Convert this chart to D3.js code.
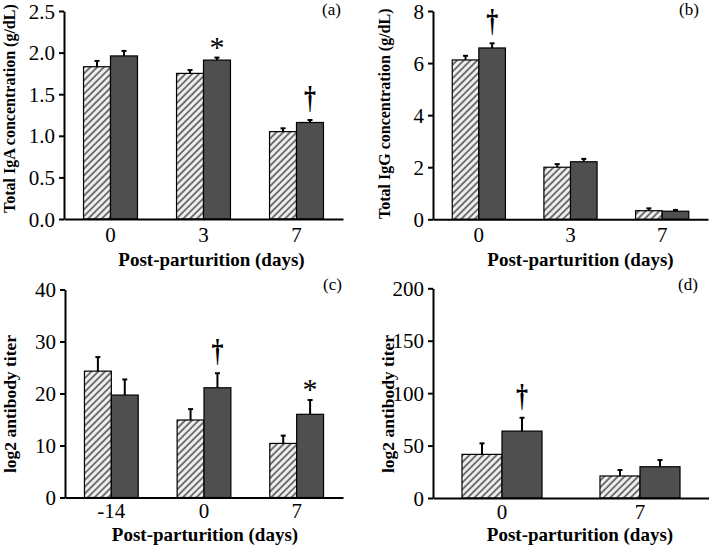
<!DOCTYPE html>
<html><head><meta charset="utf-8">
<script src="https://cdn.jsdelivr.net/npm/d3@7"></script>
<style>body{margin:0;background:#fff}svg{display:block}</style>
</head><body>
<svg id="c" width="709" height="547"></svg>
<script>
// ---- data ----
const daysAB = ["0", "3", "7"];
const igaControl = [1.83, 1.75, 1.05];
const igaControlErr = [0.07, 0.04, 0.04];
const igaTreated = [1.96, 1.91, 1.16];
const igaTreatedErr = [0.06, 0.03, 0.03];
const igaTicks = [0, 0.5, 1.0, 1.5, 2.0, 2.5];
const igaMarks = ["", "*", "†"];

const iggControl = [6.12, 2.00, 0.33];
const iggControlErr = [0.16, 0.12, 0.09];
const iggTreated = [6.58, 2.21, 0.31];
const iggTreatedErr = [0.18, 0.11, 0.05];
const iggTicks = [0, 2, 4, 6, 8];
const iggMarks = ["†", "", ""];

const daysC = ["-14", "0", "7"];
const titerCControl = [24.3, 14.9, 10.4];
const titerCControlErr = [2.7, 2.1, 1.5];
const titerCTreated = [19.7, 21.1, 16.0];
const titerCTreatedErr = [3.0, 2.8, 2.75];
const titerCTicks = [0, 10, 20, 30, 40];
const titerCMarks = ["", "†", "*"];

const daysD = ["0", "7"];
const titerDControl = [41.6, 21.0];
const titerDControlErr = [10.5, 5.7];
const titerDTreated = [63.8, 29.8];
const titerDTreatedErr = [12.7, 6.4];
const titerDTicks = [0, 50, 100, 150, 200];
const titerDMarks = ["†", ""];

const groups = ["control", "treated"];
const xTitle = "Post-parturition (days)";

// ---- layout ----
const svg = d3.select("#c");
const FONT = "'Liberation Serif','Times New Roman',Times,serif";
const defs = svg.append("defs");
const pat = defs.append("pattern").attr("id", "hatch").attr("patternUnits", "userSpaceOnUse")
  .attr("width", 4.8).attr("height", 4.8).attr("patternTransform", "rotate(45)");
pat.append("rect").attr("width", 4.8).attr("height", 4.8).attr("fill", "#efefef");
pat.append("line").attr("x1", 1).attr("y1", 0).attr("x2", 1).attr("y2", 4.8)
  .attr("stroke", "#5e5e5e").attr("stroke-width", 1.7);

const panels = [
  {cats: daysAB, ctrl: igaControl, ctrlErr: igaControlErr, trt: igaTreated, trtErr: igaTreatedErr,
   ticks: igaTicks, fmt: d3.format(".1f"), max: 2.5, marks: igaMarks, label: "(a)",
   ytitle: "Total IgA concentration (g/dL)",
   L: 64, R: 343, B: 219, T: 11, ytx: 14.5, yty: 213, yfs: 16, xtx: 211.5, xty: 266, lx: 322, ly: 15, tp: 8},
  {cats: daysAB, ctrl: iggControl, ctrlErr: iggControlErr, trt: iggTreated, trtErr: iggTreatedErr,
   ticks: iggTicks, fmt: d3.format("d"), max: 8, marks: iggMarks, label: "(b)",
   ytitle: "Total IgG concentration (g/dL)",
   L: 433, R: 708, B: 219.3, T: 11, ytx: 389.5, yty: 219, yfs: 16, xtx: 580.5, xty: 266, lx: 679, ly: 15, tp: 8},
  {cats: daysC, ctrl: titerCControl, ctrlErr: titerCControlErr, trt: titerCTreated, trtErr: titerCTreatedErr,
   ticks: titerCTicks, fmt: d3.format("d"), max: 40, marks: titerCMarks, label: "(c)",
   ytitle: "log2 antibody titer",
   L: 65, R: 343, B: 497.5, T: 289.5, ytx: 15.5, yty: 473, yfs: 17.5, xtx: 205, xty: 541, lx: 323, ly: 290, tp: 6},
  {cats: daysD, ctrl: titerDControl, ctrlErr: titerDControlErr, trt: titerDTreated, trtErr: titerDTreatedErr,
   ticks: titerDTicks, fmt: d3.format("d"), max: 200, marks: titerDMarks, label: "(d)",
   ytitle: "log2 antibody titer",
   L: 433, R: 709, B: 498, T: 288.3, ytx: 393.5, yty: 473, yfs: 17.5, xtx: 580, xty: 541, lx: 678, ly: 290, tp: 6}
];

panels.forEach(p => {
  const g = svg.append("g");
  const x0 = d3.scaleBand().domain(p.cats).range([p.L, p.R]).paddingInner(0.42).paddingOuter(0.21);
  const x1 = d3.scaleBand().domain(groups).range([0, x0.bandwidth()]);
  const y = d3.scaleLinear().domain([0, p.max]).range([p.B, p.T]);

  const rows = [];
  p.cats.forEach((c, i) => {
    rows.push({cat: c, grp: "control", v: p.ctrl[i], e: p.ctrlErr[i], mark: ""});
    rows.push({cat: c, grp: "treated", v: p.trt[i], e: p.trtErr[i], mark: p.marks[i]});
  });

  // error bars (upper only)
  const eb = g.selectAll("g.eb").data(rows).join("g");
  eb.append("line")
    .attr("x1", d => x0(d.cat) + x1(d.grp) + x1.bandwidth() / 2)
    .attr("x2", d => x0(d.cat) + x1(d.grp) + x1.bandwidth() / 2)
    .attr("y1", d => y(d.v)).attr("y2", d => y(d.v + d.e))
    .attr("stroke", "#000").attr("stroke-width", 2);
  eb.append("line")
    .attr("x1", d => x0(d.cat) + x1(d.grp) + x1.bandwidth() / 2 - 2.5)
    .attr("x2", d => x0(d.cat) + x1(d.grp) + x1.bandwidth() / 2 + 2.5)
    .attr("y1", d => y(d.v + d.e)).attr("y2", d => y(d.v + d.e))
    .attr("stroke", "#000").attr("stroke-width", 2);

  // bars
  g.selectAll("rect.bar").data(rows).join("rect")
    .attr("x", d => x0(d.cat) + x1(d.grp))
    .attr("width", x1.bandwidth())
    .attr("y", d => y(d.v))
    .attr("height", d => y(0) - y(d.v))
    .attr("fill", d => d.grp === "control" ? "url(#hatch)" : "#4f4f4f")
    .attr("stroke", "#000").attr("stroke-width", 1.2);

  // significance marks
  rows.filter(d => d.mark).forEach(d => {
    const cx = x0(d.cat) + x1(d.grp) + x1.bandwidth() / 2;
    const top = y(d.v + d.e);
    if (d.mark === "*") {
      g.append("text").attr("x", cx).attr("y", top - 1).attr("text-anchor", "middle")
        .attr("fill", "#000").attr("font-family", FONT).attr("font-size", 30).text("*");
    } else {
      g.append("g").attr("transform", `translate(${cx},${top - 12}) scale(1,1.3)`)
        .append("text").attr("text-anchor", "middle").attr("fill", "#000").attr("font-weight", "bold")
        .attr("font-family", "'Liberation Serif','DejaVu Serif',serif").attr("font-size", 24).text("†");
    }
  });

  // axes
  const ya = g.append("g").attr("transform", `translate(${p.L},0)`)
    .call(d3.axisLeft(y).tickValues(p.ticks).tickFormat(p.fmt).tickSize(5).tickSizeOuter(0).tickPadding(4));
  ya.select(".domain").attr("stroke-width", 2);
  ya.selectAll(".tick line").attr("stroke-width", 2);
  ya.selectAll(".tick text").attr("font-family", FONT).attr("font-size", 21).attr("fill", "#000").attr("dy", "0.34em");

  const xa = g.append("g").attr("transform", `translate(0,${p.B})`)
    .call(d3.axisBottom(x0).tickSize(0).tickSizeOuter(0).tickPadding(p.tp));
  xa.select(".domain").attr("stroke-width", 2);
  xa.selectAll(".tick text").attr("font-family", FONT).attr("font-size", 21).attr("fill", "#000");

  // titles
  g.append("text").attr("transform", `translate(${p.ytx},${p.yty}) rotate(-90)`)
    .attr("fill", "#000").attr("font-family", FONT).attr("font-weight", "bold").attr("font-size", p.yfs).text(p.ytitle);
  g.append("text").attr("x", p.xtx).attr("y", p.xty).attr("text-anchor", "middle")
    .attr("fill", "#000").attr("font-family", FONT).attr("font-weight", "bold").attr("font-size", 19).text(xTitle);
  g.append("text").attr("x", p.lx).attr("y", p.ly)
    .attr("fill", "#000").attr("font-family", FONT).attr("font-size", 17).text(p.label);
});
</script>
</body></html>
